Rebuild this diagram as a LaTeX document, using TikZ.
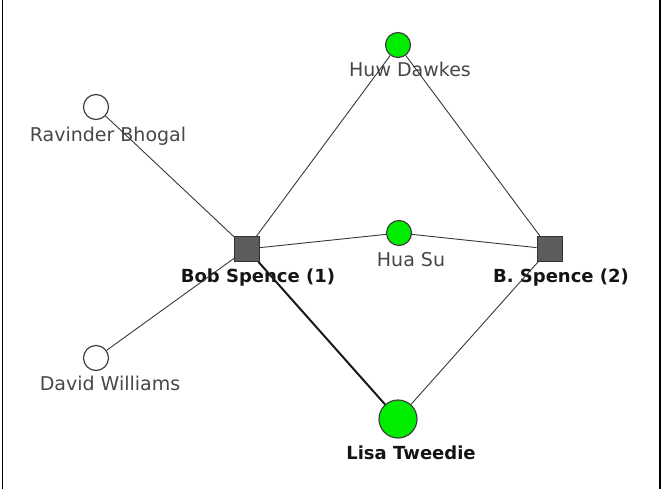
\documentclass[tikz,border=0pt]{standalone}
\usepackage{fontspec}
\setmainfont{DejaVu Sans}
\begin{document}
\begin{tikzpicture}[x=1pt,y=-1pt,
  lbl/.style={anchor=base,inner sep=0pt,text=black!72,font=\fontsize{19}{23}\selectfont},
  blbl/.style={anchor=base,inner sep=0pt,text=black!92,font=\fontsize{18}{22}\selectfont\bfseries},
  person/.style={circle,draw=black!75,line width=1.2pt,fill=white,minimum size=25pt,inner sep=0pt},
  actor/.style={circle,draw=black!75,line width=1.2pt,fill=green!93!black,minimum size=25pt,inner sep=0pt},
  big/.style={actor,minimum size=38pt},
  author/.style={rectangle,draw=black!80,line width=1pt,fill=black!64,minimum size=25pt,inner sep=0pt},
  link/.style={draw=black!78,line width=0.9pt},
  strong/.style={draw=black!90,line width=2pt}]
\useasboundingbox (0,0) rectangle (663,489);
\draw[line width=1.6pt] (2.5,0) -- (2.5,489);
\draw[line width=1.6pt] (660,0) -- (660,489);
% labels
\node[lbl] (lRav) at (108,142) {Ravinder Bhogal};
\node[lbl] (lDav) at (110,390) {David Williams};
\node[lbl] (lHuw) at (410,77) {Huw Dawkes};
\node[lbl] (lHua) at (411,266) {Hua Su};
\node[blbl] (lBob) at (258,282) {Bob Spence (1)};
\node[blbl] (lBS) at (561,282) {B. Spence (2)};
\node[blbl] (lLisa) at (411,459) {Lisa Tweedie};
% nodes
\node[person] (rav) at (96,107) {};
\node[person] (dav) at (96,358) {};
\node[actor] (huw) at (398,45) {};
\node[actor] (hua) at (399,233) {};
\node[big] (lisa) at (398,419) {};
\node[author] (bob) at (247,249) {};
\node[author] (bs) at (549.5,249) {};
% edges
\draw[link] (bob) -- (rav);
\draw[link] (bob) -- (dav);
\draw[link] (bob) -- (huw);
\draw[link] (bob) -- (hua);
\draw[strong] (bob) -- (lisa);
\draw[link] (bs) -- (huw);
\draw[link] (bs) -- (hua);
\draw[link] (bs) -- (lisa);
\end{tikzpicture}
\end{document}
